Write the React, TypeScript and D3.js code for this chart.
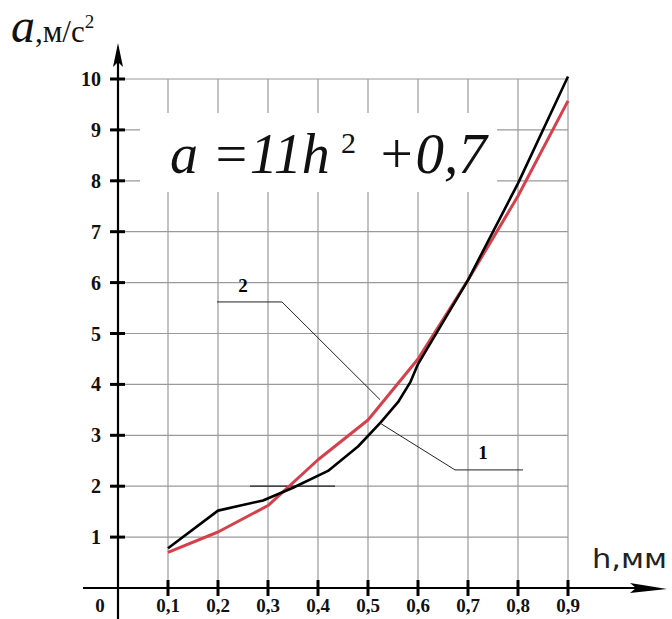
import React from "react";
import * as d3 from "d3";

// Experimental acceleration (curve 1) and fitted a = 11h² + 0,7 (curve 2)
const hExp = [0.1, 0.2, 0.29, 0.35, 0.42, 0.48, 0.525, 0.56, 0.585, 0.6, 0.7, 0.8, 0.9];
const aExp = [0.78, 1.52, 1.72, 1.97, 2.3, 2.78, 3.25, 3.65, 4.05, 4.4, 6.05, 7.95, 10.05];

const hFit = [0.1, 0.2, 0.3, 0.4, 0.5, 0.6, 0.7, 0.8, 0.9];
const aFit = [0.7, 1.1, 1.62, 2.52, 3.3, 4.5, 6.05, 7.7, 9.57];

const xTicks = [0.1, 0.2, 0.3, 0.4, 0.5, 0.6, 0.7, 0.8, 0.9];
const xTickLabels = ["0,1", "0,2", "0,3", "0,4", "0,5", "0,6", "0,7", "0,8", "0,9"];
const yTicks = [1, 2, 3, 4, 5, 6, 7, 8, 9, 10];

// Leader lines for the curve numbers, in data units
const leader2 = [
  [0.198, 5.62],
  [0.328, 5.62],
  [0.524, 3.7],
];
const leader1 = [
  [0.81, 2.32],
  [0.674, 2.32],
  [0.524, 3.24],
];
const mark2 = [
  [0.264, 2],
  [0.434, 2],
];

const W = 672;
const H = 619;
const SERIF = "'Liberation Serif', 'DejaVu Serif', 'Times New Roman', serif";

export default function App() {
  const x = d3.scaleLinear().domain([0, 0.9]).range([118, 568]);
  const y = d3.scaleLinear().domain([0, 10]).range([588, 79]);

  const line = d3
    .line<[number, number]>()
    .x((d) => x(d[0]))
    .y((d) => y(d[1]));

  const expPts = hExp.map((h, i) => [h, aExp[i]] as [number, number]);
  const fitPts = hFit.map((h, i) => [h, aFit[i]] as [number, number]);

  const gridColor = "#9a9a9a";
  const x0 = x(0);
  const y0 = y(0);
  const xMax = x(0.9);
  const yTop = y(10);

  return (
    <svg
      width={W}
      height={H}
      style={{ position: "absolute", left: 0, top: 0, background: "#fff" }}
      fontFamily={SERIF}
    >
      {/* grid */}
      {xTicks.map((t) => (
        <line key={"gx" + t} x1={x(t)} x2={x(t)} y1={yTop} y2={y0} stroke={gridColor} strokeWidth={1.2} />
      ))}
      {yTicks.map((t) => (
        <line key={"gy" + t} x1={x0} x2={xMax} y1={y(t)} y2={y(t)} stroke={gridColor} strokeWidth={1.2} />
      ))}

      {/* formula with white backing */}
      <rect x={140} y={113} width={357} height={79} fill="#fff" />
      <text x={170} y={173} fontSize={56} fontStyle="italic" fontFamily={SERIF} fill="#111">
        a =11h
      </text>
      <text x={341} y={153} fontSize={30} fontFamily={SERIF} fill="#111">
        2
      </text>
      <text x={377} y={173} fontSize={57} fontStyle="italic" fontFamily={SERIF} fill="#111">
        +0,7
      </text>

      {/* short dark mark at a = 2 */}
      <path d={line(mark2 as [number, number][]) || ""} stroke="#222" strokeWidth={1.3} fill="none" />

      {/* curves */}
      <path d={line(fitPts) || ""} stroke="#d6404c" strokeWidth={3} fill="none" strokeLinejoin="round" />
      <path d={line(expPts) || ""} stroke="#000" strokeWidth={2.6} fill="none" strokeLinejoin="round" />

      {/* leaders and curve numbers */}
      <path d={line(leader2 as [number, number][]) || ""} stroke="#222" strokeWidth={1} fill="none" />
      <path d={line(leader1 as [number, number][]) || ""} stroke="#222" strokeWidth={1} fill="none" />
      <text x={x(0.25)} y={y(5.95) + 7} fontSize={19} fontWeight="bold" textAnchor="middle">2</text>
      <text x={x(0.73)} y={y(2.67) + 7} fontSize={19} fontWeight="bold" textAnchor="middle">1</text>

      {/* axes */}
      <line x1={x0} x2={x0} y1={H} y2={56} stroke="#000" strokeWidth={2.2} />
      <path d={`M${x0},43 L${x0 - 5},67 L${x0},62 L${x0 + 5},67 Z`} fill="#000" />
      <line x1={83} x2={650} y1={y0} y2={y0} stroke="#000" strokeWidth={2.2} />
      <path d={`M667,${y0 + 1} L630,${y0 - 5} L636,${y0} L630,${y0 + 5} Z`} fill="#000" />

      {xTicks.map((t, i) => (
        <g key={"xt" + t}>
          <line x1={x(t)} x2={x(t)} y1={y0 - 8} y2={y0 + 8} stroke="#000" strokeWidth={3} />
          <text x={x(t)} y={612} fontSize={19} fontWeight="bold" textAnchor="middle" fill="#111">
            {xTickLabels[i]}
          </text>
        </g>
      ))}
      <text x={100} y={612} fontSize={19} fontWeight="bold" textAnchor="middle" fill="#111">0</text>

      {yTicks.map((t) => (
        <g key={"yt" + t}>
          <line x1={x0 - 8} x2={x0 + 7} y1={y(t)} y2={y(t)} stroke="#000" strokeWidth={3} />
          <text x={101} y={y(t) + 7} fontSize={20} fontWeight="bold" textAnchor="end" fill="#111">
            {t}
          </text>
        </g>
      ))}

      {/* axis titles */}
      <text y={42} fill="#111" fontFamily={SERIF}>
        <tspan x={11} fontSize={48} fontStyle="italic">a</tspan>
        <tspan fontSize={31}>,м/с</tspan>
        <tspan fontSize={19} dy={-14}>2</tspan>
      </text>
      <text x={592} y={568} fontSize={27} fontFamily="'DejaVu Sans', sans-serif" fill="#222" textLength={75} lengthAdjust="spacingAndGlyphs">
        h,мм
      </text>
    </svg>
  );
}
